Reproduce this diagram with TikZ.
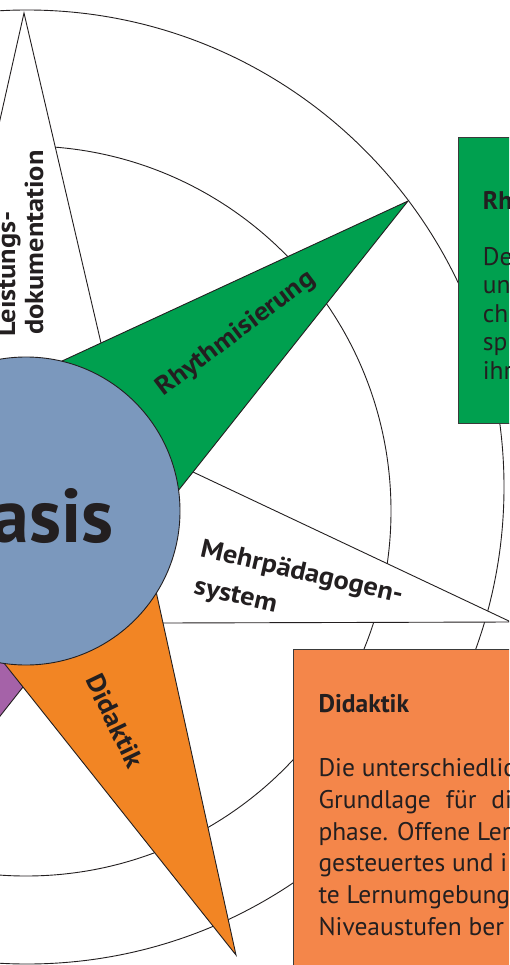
\documentclass[tikz,border=0pt]{standalone}
\usepackage{fontspec}
\setmainfont{PT Sans}
\newfontfamily\lblfont{PT Sans}[FakeStretch=1.09]
\usetikzlibrary{calc}
\definecolor{ink}{HTML}{231F20}
\definecolor{rgreen}{HTML}{00A04F}
\definecolor{rorange}{HTML}{F28524}
\definecolor{rorangebox}{HTML}{F4864A}
\definecolor{rblue}{HTML}{7B98BD}
\definecolor{rpurple}{HTML}{A562A8}
\definecolor{boxline}{HTML}{3A3A3A}
\begin{document}
\begin{tikzpicture}[x=1pt,y=-1pt,
  ring/.style={draw=ink, line width=0.9pt},
  edge/.style={draw=ink, line width=0.9pt, line join=miter},
  lbl/.style={font=\lblfont\bfseries\fontsize{26}{30}\selectfont, text=ink, inner sep=0pt},
  boxt/.style={font=\fontsize{25.5}{30}\selectfont, text=ink, inner sep=0pt, anchor=base west},
  boxh/.style={boxt, font=\bfseries\fontsize{25.5}{30}\selectfont},
  panel/.style={draw=boxline, line width=1.2pt, inner sep=0pt, anchor=north west}]
\useasboundingbox (0,0) rectangle (509,965);
\clip (0,0) rectangle (509,965);
\fill[white] (0,0) rectangle (509,965);
% star geometry
\coordinate (c) at (24,511);
\coordinate (t0) at (24,13);
\coordinate (t1) at (408,201);
\coordinate (t2) at (511,622);
\coordinate (t3) at (236,955);
\coordinate (t4) at (-190,957);
\coordinate (i01) at (101,343);
\coordinate (i12) at (193,472);
\coordinate (i23) at (163,623);
\coordinate (i34) at (23,687);
\coordinate (l0) at (-52,351);
% inner ends of the coloured arms (hidden under the centre disc)
\coordinate (g1) at ($(t1)!1.3!(i01)$);
\coordinate (g2) at ($(t1)!1.3!(i12)$);
\coordinate (o1) at ($(t3)!1.3!(i23)$);
\coordinate (o2) at ($(t3)!1.3!(i34)$);
\coordinate (pu1) at ($(t4)!1.4!(i34)$);
\coordinate (pu2) at (-100,480);
% rings
\draw[ring] (26,511) circle[radius=365];
\draw[ring] (27,487) circle[radius=477];
% white arms
\filldraw[fill=white, edge] (c) -- (l0) -- (t0) -- (i01) -- cycle;
\filldraw[fill=white, edge] (c) -- (i12) -- (t2) -- (i23) -- cycle;
% coloured arms
\filldraw[fill=rpurple, edge] (t4) -- (pu1) -- (pu2) -- cycle;
\filldraw[fill=rorange, edge] (t3) -- (o1) -- (o2) -- cycle;
\filldraw[fill=rgreen, edge] (t1) -- (g1) -- (g2) -- cycle;
% centre
\node[circle, fill=rblue, draw=ink, line width=0.9pt, minimum size=308pt, inner sep=0pt] (basis) at (26,511) {};
\node[font=\bfseries\fontsize{76}{80}\selectfont, text=ink, inner sep=0pt, anchor=base east] (basistxt) at (114,542) {Basis};
% arm labels
\node[lbl, rotate=90, anchor=base west] (ld2) at (43,335) {dokumentation};
\node[lbl, rotate=90, anchor=base west] (ld1) at (15,337) {Leistungs-};
\node[lbl, rotate=37] (rh) at (236,334) {Rhythmisierung};
\node[lbl, rotate=-12.86, anchor=base west] (mp1) at (199.3,556.7) {Mehrpädagogen-};
\node[lbl, rotate=-12.86, anchor=base west] (mp2) at (192.7,593.3) {system};
\node[lbl, rotate=-64.29] (di) at (115,721) {Didaktik};
% panels
\node[panel, fill=rgreen, minimum width=80pt, minimum height=286pt] (gbox) at (458,137) {};
\node[panel, fill=rorangebox, minimum width=240pt, minimum height=340pt] (obox) at (293,649) {};
\node[boxh] (gh) at (482.7,210) {Rh};
\node[boxt] (gl1) at (482.7,265.5) {De};
\node[boxt] (gl2) at (482.7,294) {un};
\node[boxt] (gl3) at (482.7,322) {ch};
\node[boxt] (gl4) at (482.7,350.5) {sp};
\node[boxt] (gl5) at (482.7,379) {ihr};
\node[boxh] (oh) at (318.3,712.7) {Didaktik};
\node[boxt] (ol1) at (318.3,776.7) {Die unterschiedlic};
\node[boxt] (ol2) at (318.3,808.3) {Grundlage\hspace*{15pt}für\hspace*{15pt}di};
\node[boxt] (ol3) at (318.3,840) {phase. Offene Ler};
\node[boxt] (ol4) at (318.3,871.7) {gesteuertes und i};
\node[boxt] (ol5) at (318.3,903.3) {te Lernumgebung};
\node[boxt] (ol6) at (318.3,935) {Niveaustufen ber};
\end{tikzpicture}
\end{document}
